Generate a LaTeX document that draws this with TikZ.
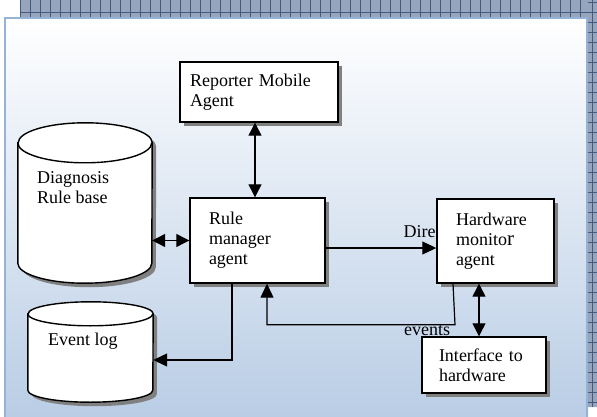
\documentclass[tikz,border=0pt]{standalone}
\usepackage{fontspec}
\setmainfont{Liberation Serif}
\usetikzlibrary{arrows.meta,shadows}
\definecolor{panelblue}{RGB}{185,205,229}
\definecolor{edgeblue}{RGB}{149,179,215}
\definecolor{stripfill}{RGB}{150,164,188}
\definecolor{stripline}{RGB}{66,90,125}
\tikzset{ag/.append style={draw,line width=1.4pt,fill=white,align=left,inner ysep=0pt,
    font=\fontsize{18}{20}\selectfont,
    drop shadow={shadow xshift=4pt,shadow yshift=-4pt,fill=black!50,opacity=1}}}
\tikzset{db/.append style={inner sep=0pt}}
\tikzset{cyl/.append style={draw,line width=1.4pt,fill=white,
    drop shadow={shadow xshift=4pt,shadow yshift=-4pt,fill=black!50,opacity=1}}}
\tikzset{tx/.append style={anchor=north west,inner sep=0pt,align=left,font=\fontsize{18}{20}\selectfont}}
\tikzset{ln/.append style={line width=1.2pt}}
\tikzset{ar/.append style={ln,-{Triangle[length=14pt,width=13pt]}}}
\tikzset{dar/.append style={ln,{Triangle[length=13pt,width=13pt]}-{Triangle[length=13pt,width=13pt]}}}
% cylinder round a node: name, x radius, y radius
\newcommand\dbcyl[3]{%
    \draw[cyl] ([yshift=-#3]#1.north west) -- ([yshift=#3]#1.south west)
        arc[start angle=180,end angle=360,x radius=#2,y radius=#3]
        -- ([yshift=-#3]#1.north east)
        arc[start angle=0,end angle=180,x radius=#2,y radius=#3] -- cycle;
    \draw[line width=1.4pt] ([yshift=-#3]#1.north west)
        arc[start angle=180,end angle=360,x radius=#2,y radius=#3];}

\begin{document}
\begin{tikzpicture}[x=1pt,y=-1pt]
                \useasboundingbox (0,0) rectangle (597,417);
                % panel and border strips
                \shade[top color=white,bottom color=panelblue] (5,18) rectangle (588,417);
                \draw[edgeblue,line width=2pt] (5,417) -- (5,18) -- (587,18) -- (587,417);
                \path[fill=stripfill] (20,0) -- (597,0) -- (597,407) -- (588,407) -- (588,17) -- (20,17) -- cycle;
                \foreach \x in {20.7,30.7,...,590} \draw[stripline,line width=0.8pt] (\x,0) -- (\x,17);
                \foreach \y in {2,12,...,402} \draw[stripline,line width=0.8pt] (588,\y) -- (597,\y);
                \draw[stripline,line width=0.8pt] (20,12) -- (597,12) (592.7,0) -- (592.7,407);
                % agents
                \node[ag,text width=138pt,inner xsep=10pt,minimum height=60pt] (rma) at (259,92)
                    {Reporter Mobile\\Agent};
                \node[ag,text width=97pt,inner xsep=19pt,minimum height=85pt] (rman) at (257.5,240.5)
                    {Rule\\manager\\agent};
                \node[ag,text width=79pt,inner xsep=19pt,minimum height=84pt] (hwm) at (495.5,241)
                    {Hardware\\monito{\fontsize{21}{20}\selectfont r}\\agent};
                \node[tx] (evs) at (404,325) {events};
                \node[ag,text width=90pt,inner xsep=17pt,minimum height=56pt] (ith) at (484,365)
                    {Interface to\\hardware};
                % data stores
                \node[db,minimum width=134pt,minimum height=160pt] (drb) at (85,203) {};
                \dbcyl{drb}{67pt}{20pt}
                \node[tx] (drbt) at (37,171) {Diagnosis\\Rule base};
                \node[db,minimum width=125pt,minimum height=100pt] (ev) at (90.5,352) {};
                \dbcyl{ev}{62.5pt}{12pt}
                \node[tx] (evt) at (48,333) {Event log};
                % connectors
                \draw[dar] ([xshift=-4pt]rma.south) -- ([xshift=-4pt]rma.south |- rman.north);
                \draw[dar] (rman.west -| drb.east) -- (rman.west);
                \draw[ar] ([yshift=-7.5pt]rman.east) -- ([yshift=-7.5pt]rman.east -| hwm.west)
                    node[tx,pos=1,anchor=base east,yshift=11pt] {Dire};
                \draw[ar] ([xshift=-25.5pt]rman.south) |- ([yshift=-8pt]ev.east);
                \draw[ar] ([xshift=-42.5pt]hwm.south) -- ++(2,41) -| ([xshift=9.5pt]rman.south);
                \draw[dar] ([xshift=-5pt]ith.north |- hwm.south) -- ([xshift=-5pt]ith.north);
            \end{tikzpicture}
\end{document}
